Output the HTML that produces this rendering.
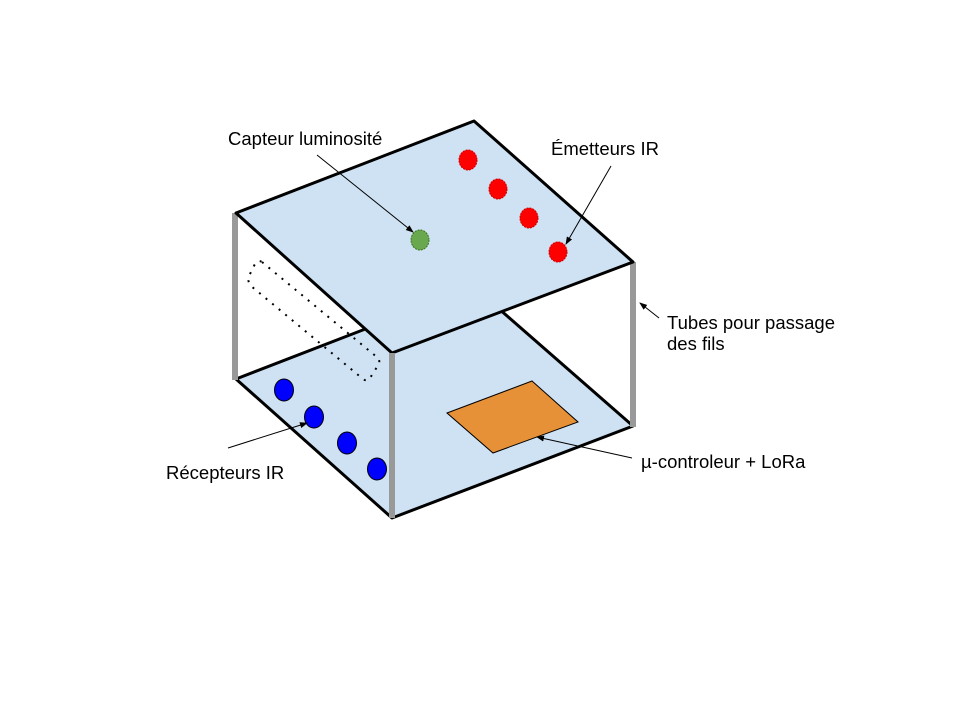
<!DOCTYPE html>
<html><head><meta charset="utf-8"><style>
html,body{margin:0;padding:0;background:#fff;}
svg{display:block;}
text{font-family:"Liberation Sans",Arial,sans-serif;font-size:18.5px;fill:#000;}
</style></head><body>
<svg width="960" height="720" viewBox="0 0 960 720" xmlns="http://www.w3.org/2000/svg">
<defs>
<marker id="a" markerWidth="8" markerHeight="8" refX="7" refY="4" orient="auto" markerUnits="userSpaceOnUse">
<path d="M0,1 L8,4 L0,7 z" fill="#000"/>
</marker>
</defs>
<polygon points="236,379 474,287 633,426 392,518" fill="#cfe2f3" stroke="#000" stroke-width="3" stroke-linejoin="round"/>
<polygon points="447,413 532,381 578,422 493,453" fill="#e69138" stroke="#000" stroke-width="1"/>
<g fill="#0000ff" stroke="#000" stroke-width="1">
<ellipse cx="284" cy="390" rx="9.5" ry="11"/>
<ellipse cx="314" cy="417" rx="9.5" ry="11"/>
<ellipse cx="347" cy="443" rx="9.5" ry="11"/>
<ellipse cx="377" cy="469" rx="9.5" ry="11"/>
</g>
<path d="M262,262 L378,358 Q381,362 377,367 L370,378 Q367,382 363,379 L251,286 Q247,281 249,276 L254,266 Q257,259 262,262 z" fill="none" stroke="#000" stroke-width="2" stroke-dasharray="2,6.5"/>
<g stroke="#999" stroke-width="6">
<line x1="235" y1="213" x2="235" y2="380"/>
<line x1="633" y1="262" x2="633" y2="427"/>
</g>
<polygon points="236,213 474,121 633,262 392,353" fill="#cfe2f3" stroke="#000" stroke-width="3" stroke-linejoin="round"/>
<line x1="392" y1="353" x2="392" y2="518" stroke="#999" stroke-width="6"/>
<g fill="#ff0000" stroke="#cc0000" stroke-width="1" stroke-dasharray="2,1">
<ellipse cx="468" cy="160" rx="9" ry="10"/>
<ellipse cx="498" cy="189" rx="9" ry="10"/>
<ellipse cx="529" cy="218" rx="9" ry="10"/>
<ellipse cx="558" cy="252" rx="9" ry="10"/>
</g>
<ellipse cx="420" cy="240" rx="9" ry="10" fill="#6aa84f" stroke="#38761d" stroke-width="1" stroke-dasharray="2,1"/>
<g stroke="#000" stroke-width="1" fill="none" marker-end="url(#a)">
<line x1="317" y1="155" x2="413" y2="232"/>
<line x1="611" y1="166" x2="566" y2="244"/>
<line x1="659" y1="318" x2="640" y2="303"/>
<line x1="228" y1="448" x2="307" y2="423"/>
<line x1="632" y1="458" x2="537" y2="437"/>
</g>
<text x="228" y="145">Capteur luminosité</text>
<text x="551" y="155">Émetteurs IR</text>
<text x="667" y="329">Tubes pour passage</text>
<text x="667" y="350">des fils</text>
<text x="166" y="479">Récepteurs IR</text>
<text x="641" y="468">µ-controleur + LoRa</text>
</svg>
</body></html>
